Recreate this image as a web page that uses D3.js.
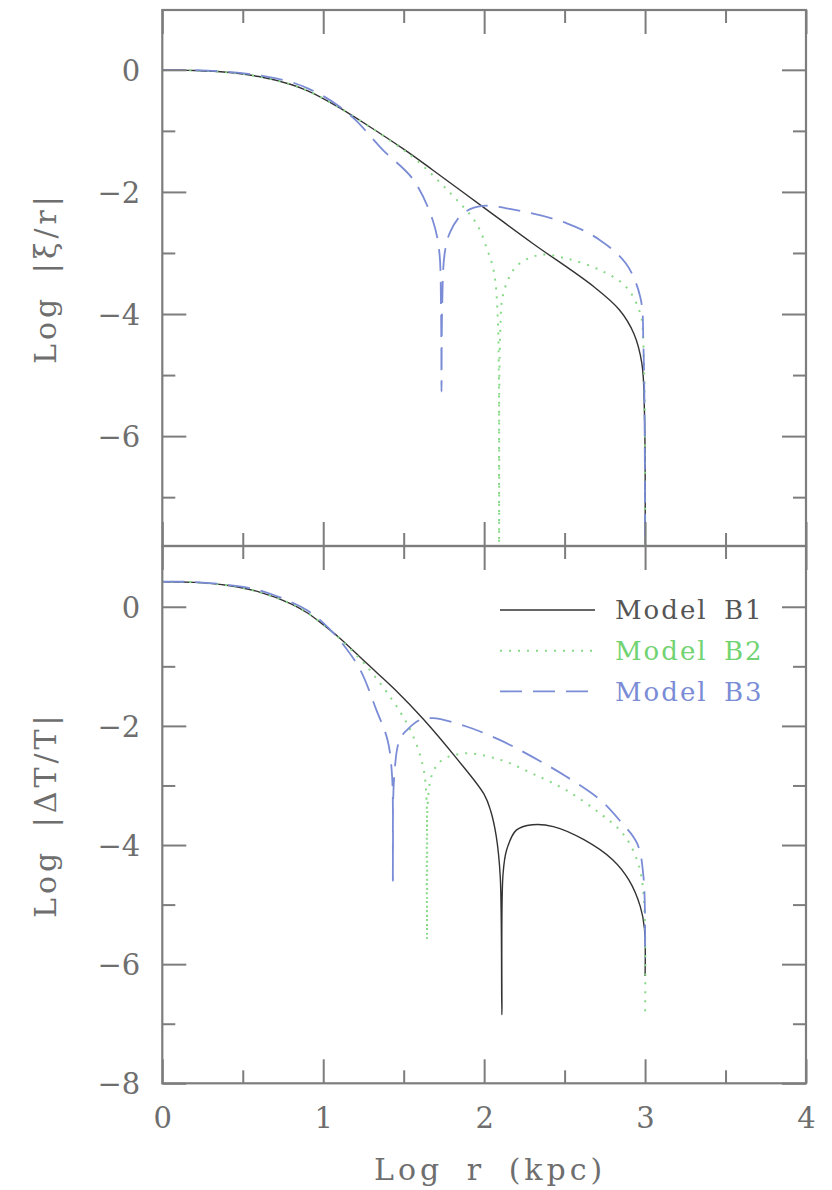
<!DOCTYPE html>
<html>
<head>
<meta charset="utf-8">
<script src="https://cdn.jsdelivr.net/npm/d3@7"></script>
<style>
  body { margin: 0; background: #fff; }
  svg text { font-family: "DejaVu Serif", serif; }
</style>
</head>
<body>
<svg id="chart" width="832" height="1190"></svg>
<script>
// axis ticks
const xMajor = [0, 1, 2, 3, 4];
const xMinor = [0.5, 1.5, 2.5, 3.5];
const yMajorTop = [0, -2, -4, -6];
const yMajorBot = [0, -2, -4, -6, -8];
const yMinor = [-1, -3, -5, -7];

// top panel: Log |xi/r| vs Log r
const xiB1 = [[0,0],[0.2,-0.01],[0.4,-0.04],[0.6,-0.11],[0.8,-0.24],[0.9,-0.34],[1.0,-0.47],
  [1.1,-0.62],[1.27,-0.9],[1.5,-1.3],[1.68,-1.64],[1.99,-2.24],[2.3,-2.84],[2.68,-3.55],
  [2.84,-3.93],[2.93,-4.32],[2.98,-4.81],[2.996,-5.6],[3.0,-8.5]];
const xiB2 = [[0,0],[0.2,-0.01],[0.4,-0.04],[0.6,-0.11],[0.8,-0.24],[0.9,-0.34],[1.0,-0.47],
  [1.1,-0.62],[1.27,-0.9],[1.45,-1.22],[1.58,-1.48],[1.79,-2.02],[1.95,-2.51],[2.02,-2.95],
  [2.06,-3.3],[2.085,-4.1],[2.093,-8.5],[2.1,-4.3],[2.12,-3.66],[2.2,-3.22],[2.35,-3.03],
  [2.51,-3.09],[2.72,-3.28],[2.88,-3.55],[2.97,-3.99],[2.99,-4.54],[3.0,-8.5]];
const xiB3 = [[0,0],[0.2,-0.005],[0.4,-0.03],[0.6,-0.09],[0.8,-0.2],[0.9,-0.3],[1.0,-0.43],
  [1.1,-0.6],[1.2,-0.82],[1.37,-1.31],[1.56,-1.8],[1.68,-2.46],[1.72,-2.95],[1.732,-3.9],
  [1.735,-5.27],[1.739,-3.9],[1.755,-3.0],[1.79,-2.65],[1.87,-2.35],[1.99,-2.23],[2.2,-2.3],
  [2.51,-2.51],[2.72,-2.79],[2.88,-3.17],[2.97,-3.72],[2.99,-4.54],[3.0,-8.5]];

// bottom panel: Log |dT/T| vs Log r
const dtB1 = [[0,0.42],[0.2,0.41],[0.4,0.36],[0.6,0.25],[0.8,0.05],[0.9,-0.1],[1.0,-0.3],
  [1.1,-0.52],[1.27,-0.95],[1.45,-1.4],[1.62,-1.88],[1.83,-2.55],[2.0,-3.15],[2.04,-3.42],
  [2.075,-3.85],[2.1,-4.53],[2.11,-6.85],[2.117,-4.5],[2.14,-4.08],[2.2,-3.75],[2.3,-3.66],
  [2.43,-3.69],[2.62,-3.91],[2.8,-4.25],[2.9,-4.59],[2.97,-5.03],[2.996,-5.4],[3.0,-6.2]];
const dtB2 = [[0,0.42],[0.2,0.41],[0.4,0.36],[0.6,0.25],[0.8,0.05],[0.9,-0.1],[1.0,-0.3],
  [1.1,-0.53],[1.27,-1.0],[1.47,-1.73],[1.56,-2.18],[1.62,-2.68],[1.64,-3.13],[1.645,-5.6],
  [1.652,-3.2],[1.68,-2.79],[1.74,-2.57],[1.89,-2.46],[2.1,-2.57],[2.3,-2.8],[2.51,-3.08],
  [2.72,-3.47],[2.86,-3.8],[2.95,-4.25],[2.99,-4.81],[3.0,-6.9]];
const dtB3 = [[0,0.42],[0.2,0.415],[0.4,0.37],[0.6,0.28],[0.8,0.08],[0.9,-0.06],[1.0,-0.27],
  [1.12,-0.62],[1.23,-1.06],[1.33,-1.73],[1.4,-2.24],[1.428,-2.85],[1.433,-4.6],[1.44,-2.9],
  [1.474,-2.24],[1.52,-2.07],[1.6,-1.9],[1.68,-1.87],[1.89,-2.01],[2.1,-2.24],[2.3,-2.52],
  [2.51,-2.85],[2.72,-3.24],[2.84,-3.58],[2.95,-3.97],[2.99,-4.53],[3.0,-5.9]];

const modelNames = ["Model B1", "Model B2", "Model B3"];
const modelColors = ["#333333", "#86d986", "#7b8cd6"];
const legendText = ["#555", "#72d372", "#7b8cd6"];

const svg = d3.select("#chart");
const left = 162.3, right = 806;
const axisColor = "#7d7d7d", labelColor = "#6e6e6e";

const x = d3.scaleLinear().domain([0, 4]).range([left, right]);
const yTop = d3.scaleLinear().domain([-7.8, 0.98]).range([546, 10]);
const yBot = d3.scaleLinear().domain([-8, 1.02]).range([1083.3, 546]);

const styles = [
  {w: 1.4, dash: null},
  {w: 2, dash: "2,7"},
  {w: 1.8, dash: "22,11"}
];

function drawPanel(id, y, series, yMajor, showX, title) {
  const g = svg.append("g");
  const [y0, y1] = y.range();

  g.append("clipPath").attr("id", id)
    .append("rect").attr("x", left).attr("y", y1)
    .attr("width", right - left).attr("height", y0 - y1);

  const line = d3.line()
    .x(d => x(d[0])).y(d => y(d[1]))
    .curve(d3.curveCatmullRom.alpha(0.5));

  const lines = g.append("g").attr("clip-path", `url(#${id})`);
  series.forEach((s, i) => {
    lines.append("path").datum(s)
      .attr("d", line)
      .attr("fill", "none")
      .attr("stroke", modelColors[i])
      .attr("stroke-width", styles[i].w)
      .attr("stroke-dasharray", styles[i].dash);
  });

  // ticks on all four sides, pointing in
  const addAxis = (axis, tx, ty) => {
    const a = g.append("g").attr("transform", `translate(${tx},${ty})`).call(axis);
    a.select(".domain").remove();
    a.selectAll("line").attr("stroke", axisColor).attr("stroke-width", 2);
    a.selectAll("text").attr("fill", labelColor).attr("font-size", 29)
      .attr("font-family", "DejaVu Serif");
    return a;
  };
  const fmt = d => d < 0 ? "\u2212" + Math.abs(d) : d;

  addAxis(d3.axisLeft(y).tickValues(yMajor).tickSize(-24).tickPadding(22).tickFormat(fmt), left, 0)
    .selectAll("text").attr("dy", "0.36em");
  addAxis(d3.axisLeft(y).tickValues(yMinor).tickSize(-13).tickFormat(""), left, 0);
  addAxis(d3.axisRight(y).tickValues(yMajor).tickSize(-24).tickFormat(""), right, 0);
  addAxis(d3.axisRight(y).tickValues(yMinor).tickSize(-13).tickFormat(""), right, 0);
  addAxis(d3.axisTop(x).tickValues(xMajor).tickSize(-24).tickFormat(""), 0, y1);
  addAxis(d3.axisTop(x).tickValues(xMinor).tickSize(-13).tickFormat(""), 0, y1);
  addAxis(d3.axisBottom(x).tickValues(xMajor).tickSize(-24).tickPadding(24)
    .tickFormat(showX ? d => d : ""), 0, y0);
  addAxis(d3.axisBottom(x).tickValues(xMinor).tickSize(-13).tickFormat(""), 0, y0);

  g.append("rect").attr("x", left).attr("y", y1)
    .attr("width", right - left).attr("height", y0 - y1)
    .attr("fill", "none").attr("stroke", axisColor).attr("stroke-width", 2.2);

  g.append("text")
    .attr("transform", `translate(56,${(y0 + y1) / 2}) rotate(-90)`)
    .attr("text-anchor", "middle")
    .attr("font-size", 30).attr("letter-spacing", 4).attr("word-spacing", 8)
    .attr("fill", labelColor)
    .text(title);
  return g;
}

drawPanel("clipTop", yTop, [xiB1, xiB2, xiB3], yMajorTop, false, "Log |\u03BE/r|");
const bot = drawPanel("clipBot", yBot, [dtB1, dtB2, dtB3], yMajorBot, true, "Log |\u0394T/T|");

svg.append("text")
  .attr("x", (left + right) / 2 + 6).attr("y", 1180)
  .attr("text-anchor", "middle")
  .attr("font-size", 30).attr("letter-spacing", 4).attr("word-spacing", 10)
  .attr("fill", labelColor)
  .text("Log r (kpc)");

// legend
const legend = bot.append("g");
modelNames.forEach((name, i) => {
  const ly = 610 + i * 40.7;
  legend.append("line")
    .attr("x1", 500).attr("x2", 595).attr("y1", ly).attr("y2", ly)
    .attr("stroke", modelColors[i])
    .attr("stroke-width", styles[i].w)
    .attr("stroke-dasharray", styles[i].dash);
  legend.append("text")
    .attr("x", 615).attr("y", ly).attr("dy", "0.36em")
    .attr("font-size", 26).attr("letter-spacing", 2).attr("word-spacing", 6)
    .attr("fill", legendText[i])
    .text(name);
});
</script>
</body>
</html>
